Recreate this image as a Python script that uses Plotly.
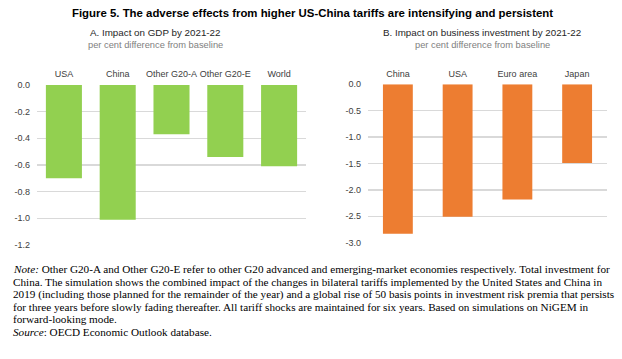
import plotly.graph_objects as go

W, H = 622, 359

gdp_cats = ["USA", "China", "Other G20-A", "Other G20-E", "World"]
gdp_vals = [-0.70, -1.01, -0.37, -0.54, -0.61]
gdp_ticks = [0.0, -0.2, -0.4, -0.6, -0.8, -1.0, -1.2]

inv_cats = ["China", "USA", "Euro area", "Japan"]
inv_vals = [-2.83, -2.51, -2.18, -1.49]
inv_ticks = [0.0, -0.5, -1.0, -1.5, -2.0, -2.5, -3.0]

title = "Figure 5. The adverse effects from higher US-China tariffs are intensifying and persistent"
sub_a = "A. Impact on GDP by 2021-22"
sub_b = "B. Impact on business investment by 2021-22"
unit = "per cent difference from baseline"
notes = [
    "<i>Note:</i> Other G20-A and Other G20-E refer to other G20 advanced and emerging-market economies respectively. Total investment for",
    "China. The simulation shows the combined impact of the changes in bilateral tariffs implemented by the United States and China in",
    "2019 (including those planned for the remainder of the year) and a global rise of 50 basis points in investment risk premia that persists",
    "for three years before slowly fading thereafter. All tariff shocks are maintained for six years. Based on simulations on NiGEM in",
    "forward-looking mode.",
    "<i>Source</i>: OECD Economic Outlook database.",
]

def px(x):
    return x / W

def py(y):
    return 1 - y / H

fig = go.Figure()
fig.add_trace(go.Bar(x=gdp_cats, y=gdp_vals, marker=dict(color="#92d050", line=dict(width=0)),
                     xaxis="x", yaxis="y", showlegend=False, hoverinfo="skip"))
fig.add_trace(go.Bar(x=inv_cats, y=inv_vals, width=0.5, marker=dict(color="#ed7d31", line=dict(width=0)),
                     xaxis="x2", yaxis="y2", showlegend=False, hoverinfo="skip"))

tickfont = dict(family="Liberation Sans, Arial, sans-serif", size=9, color="#404040")
grid = dict(showgrid=True, gridcolor="#d9d9d9", gridwidth=1.5, zeroline=False, automargin=False,
            showline=False, ticks="", tickfont=tickfont, fixedrange=True)
xcommon = dict(side="top", showgrid=False, zeroline=False, automargin=False,
               showline=False, ticks="", tickfont=tickfont, fixedrange=True, ticklabelstandoff=5)

fig.update_layout(
    template="none",
    width=W, height=H,
    margin=dict(l=0, r=0, t=0, b=0, pad=0),
    paper_bgcolor="white", plot_bgcolor="white",
    showlegend=False,
    bargap=0.33,
    xaxis=dict(domain=[px(37), px(306)], anchor="y", **xcommon),
    yaxis=dict(domain=[py(245), py(85)], range=[-1.2, 0], tickvals=gdp_ticks,
               ticktext=[f"{v:.1f}" for v in gdp_ticks], anchor="x", ticklabelstandoff=6, **grid),
    xaxis2=dict(domain=[px(368), px(607)], anchor="y2", **xcommon),
    yaxis2=dict(domain=[py(242.7), py(84.3)], range=[-3.0, 0], tickvals=inv_ticks,
                ticktext=[f"{v:.1f}" for v in inv_ticks], anchor="x2", ticklabelstandoff=6, **grid),
)

ann = []
ann.append(dict(text=f"<b>{title}</b>", x=px(312), y=py(13), xref="paper", yref="paper",
                showarrow=False, xanchor="center", yanchor="middle",
                font=dict(family="Liberation Sans, Arial, sans-serif", size=11.4, color="black")))
for t, cx in [(sub_a, 155), (sub_b, 482)]:
    ann.append(dict(text=t, x=px(cx), y=py(32.5), xref="paper", yref="paper", showarrow=False,
                    xanchor="center", yanchor="middle",
                    font=dict(family="Liberation Sans, Arial, sans-serif", size=9.8, color="#262626")))
    ann.append(dict(text=unit, x=px(cx), y=py(44.5), xref="paper", yref="paper", showarrow=False,
                    xanchor="center", yanchor="middle",
                    font=dict(family="Liberation Sans, Arial, sans-serif", size=9.3, color="#808080")))
ys = [269.3, 281.7, 294.2, 306.7, 319.2, 331.7]
for t, yy in zip(notes, ys):
    ann.append(dict(text=t, x=px(11), y=py(yy), xref="paper", yref="paper", showarrow=False,
                    xanchor="left", yanchor="middle",
                    font=dict(family="Liberation Serif, Times New Roman, serif", size=11.2, color="black")))
fig.update_layout(annotations=ann)

fig.write_html("out.html",
               config={"displayModeBar": False, "staticPlot": True},
               post_script="document.body.style.margin='0';document.body.style.padding='0';"
                           "document.documentElement.style.overflow='hidden';")
